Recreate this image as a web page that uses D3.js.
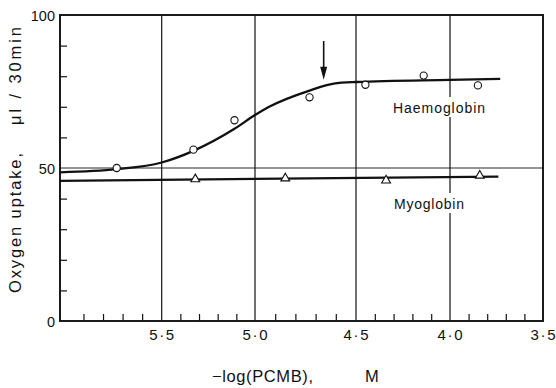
<!DOCTYPE html>
<html><head><meta charset="utf-8">
<script src="https://cdn.jsdelivr.net/npm/d3@7"></script>
<style>body{margin:0;background:#fff}svg{display:block}text{font-family:"Liberation Sans",Arial,sans-serif;fill:#111}</style>
</head><body>
<svg id="c" width="556" height="388"></svg>
<script>
// Data
const xTicks = [5.5, 5.0, 4.5, 4.0, 3.5];
const xTickLabels = ["5·5", "5·0", "4·5", "4·0", "3·5"];
const xMinorTicks = [5.9, 5.8, 5.7, 5.6, 5.4, 5.3, 5.2, 5.1, 4.9, 4.8, 4.7, 4.6, 4.4, 4.3, 4.2, 4.1, 3.9, 3.8, 3.7, 3.6];
const yTickLabels = [0, 50, 100];
const yMinorTicks = [10, 20, 30, 40, 60, 70, 80, 90];
const haemoX = [5.73, 5.33, 5.11, 4.73, 4.45, 4.14, 3.85];
const haemoY = [50, 56, 65.6, 73.1, 77.2, 80.2, 77];
const haemoCurveX = [6.02, 5.73, 5.5, 5.33, 5.11, 5.0, 4.93, 4.73, 4.61, 4.5, 4.0, 3.73];
const haemoCurveY = [48.6, 49.6, 51.8, 55.6, 62.8, 67.3, 70.0, 75.3, 77.6, 78.1, 78.8, 79.1];
const myoX = [5.32, 4.85, 4.34, 3.84];
const myoY = [46, 46.3, 45.6, 47.2];
const myoLineX = [6.02, 3.74];
const myoLineY = [45.8, 47.2];
const arrowX = 4.66, arrowTop = 91.5, arrowTip = 78.8;

const svg = d3.select("#c");
const L = 60, R = 543, T = 15, B = 321;
// the original printed axis is slightly uneven; piecewise-linear scale follows it
const x = d3.scaleLinear().domain([6.02, 5.5, 5.0, 4.5, 4.0, 3.5]).range([L, 161.7, 255, 356, 450, R]);
const y = d3.scaleLinear().domain([0, 100]).range([B, T]);
const ink = "#111";

// vertical grid lines
svg.append("g").selectAll("line").data(xTicks.slice(0, 4)).join("line")
  .attr("x1", d => x(d)).attr("x2", d => x(d)).attr("y1", T).attr("y2", B)
  .attr("stroke", ink).attr("stroke-width", 1.2);
// horizontal line at 50
svg.append("line").attr("x1", L).attr("x2", R).attr("y1", y(50)).attr("y2", y(50))
  .attr("stroke", ink).attr("stroke-width", 0.9);

// axes (ticks inward)
const xAxis = d3.axisBottom(x).tickValues(xMinorTicks).tickSize(-7).tickFormat("");
const gx = svg.append("g").attr("transform", `translate(0,${B})`).call(xAxis);
gx.select(".domain").remove();
gx.selectAll("line").attr("stroke", ink).attr("stroke-width", 1.2);
const yAxis = d3.axisLeft(y).tickValues(yMinorTicks).tickSize(-7).tickFormat("");
const gy = svg.append("g").attr("transform", `translate(${L},0)`).call(yAxis);
gy.select(".domain").remove();
gy.selectAll("line").attr("stroke", ink).attr("stroke-width", 1.2);

// frame
svg.append("rect").attr("x", L).attr("y", T).attr("width", R - L).attr("height", B - T)
  .attr("fill", "none").attr("stroke", ink).attr("stroke-width", 1.9);

// tick labels
svg.append("g").selectAll("text").data(xTicks).join("text")
  .attr("x", d => x(d)).attr("y", 339.5).attr("text-anchor", "middle")
  .attr("font-size", 15).attr("textLength", 25).attr("lengthAdjust", "spacing")
  .text((d, i) => xTickLabels[i]);
svg.append("g").selectAll("text").data(yTickLabels).join("text")
  .attr("x", 55).attr("y", d => y(d) + 5.5).attr("text-anchor", "end")
  .attr("font-size", 14.5).text(d => d);

// labels with white backgrounds (interrupting grid)
function label(txt, cx, cy, w) {
  svg.append("rect").attr("x", cx - w / 2 - 4).attr("y", cy - 11).attr("width", w + 8).attr("height", 20).attr("fill", "#fff");
  svg.append("text").attr("x", cx).attr("y", cy + 5).attr("text-anchor", "middle").attr("font-size", 14)
    .attr("textLength", w).attr("lengthAdjust", "spacing").text(txt);
}
label("Haemoglobin", 439, 108, 92);
label("Myoglobin", 429, 204, 70);

// curves
const haemoCurve = haemoCurveX.map((d, i) => [d, haemoCurveY[i]]);
svg.append("path").datum(haemoCurve)
  .attr("d", d3.line().x(d => x(d[0])).y(d => y(d[1])).curve(d3.curveMonotoneX))
  .attr("fill", "none").attr("stroke", ink).attr("stroke-width", 2.3);
const myoLine = myoLineX.map((d, i) => [d, myoLineY[i]]);
svg.append("path").datum(myoLine)
  .attr("d", d3.line().x(d => x(d[0])).y(d => y(d[1])))
  .attr("fill", "none").attr("stroke", ink).attr("stroke-width", 2.3);

// points
svg.append("g").selectAll("circle").data(haemoX).join("circle")
  .attr("cx", d => x(d)).attr("cy", (d, i) => y(haemoY[i])).attr("r", 3.6)
  .attr("fill", "#fff").attr("stroke", ink).attr("stroke-width", 1.1);
const tri = d3.symbol().type(d3.symbolTriangle).size(34);
svg.append("g").selectAll("path").data(myoX).join("path")
  .attr("transform", (d, i) => `translate(${x(d)},${y(myoY[i]) - 1})`).attr("d", tri)
  .attr("fill", "#fff").attr("stroke", ink).attr("stroke-width", 1.1);

// arrow
const ax = x(arrowX);
svg.append("line").attr("x1", ax).attr("x2", ax).attr("y1", y(arrowTop)).attr("y2", y(arrowTip) - 6)
  .attr("stroke", ink).attr("stroke-width", 1.6);
svg.append("path").attr("d", `M${ax - 3.5},${y(arrowTip) - 13} L${ax + 3.5},${y(arrowTip) - 13} L${ax},${y(arrowTip)} Z`).attr("fill", ink);

// axis titles
svg.append("text").attr("transform", "translate(21,223) rotate(-90)").attr("text-anchor", "middle")
  .attr("font-size", 16.5).attr("textLength", 140).attr("lengthAdjust", "spacing").text("Oxygen uptake,");
svg.append("text").attr("transform", "translate(21,76) rotate(-90)").attr("text-anchor", "middle")
  .attr("font-size", 16.5).attr("textLength", 98).attr("lengthAdjust", "spacing").text("μl / 30min");
svg.append("text").attr("x", 212).attr("y", 382).attr("font-size", 16.5)
  .attr("textLength", 101).attr("lengthAdjust", "spacing").text("−log(PCMB),");
svg.append("text").attr("x", 365).attr("y", 382).attr("font-size", 16.5).text("M");
</script>
</body></html>
